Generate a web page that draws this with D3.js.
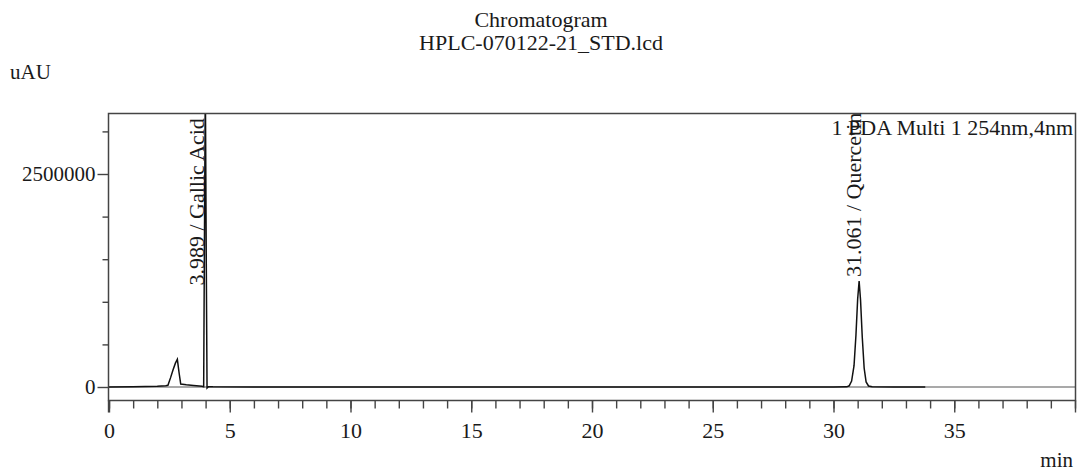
<!DOCTYPE html>
<html><head><meta charset="utf-8">
<script src="https://cdn.jsdelivr.net/npm/d3@7"></script>
<style>
body{margin:0;background:#fff;}
text{font-family:"Liberation Serif","Times New Roman",serif;fill:#1a1a1a;}
</style></head>
<body><svg id="c" width="1080" height="472"></svg>
<script>
// ---- data ----
const titleLines = ["Chromatogram", "HPLC-070122-21_STD.lcd"];
const yUnit = "uAU";
const xUnit = "min";
const legendText = "1 PDA Multi 1 254nm,4nm";
const xMajorTicks = [0, 5, 10, 15, 20, 25, 30, 35];
const xMinorTicks = d3.range(0, 41, 1);
const yMajorTicks = [0, 2500000];
const yMinorTicks = [500000, 1000000, 1500000, 2000000, 3000000];
const time = [0, 1.0, 2.0, 2.35, 2.44, 2.55, 2.65, 2.75, 2.83, 2.9, 2.97, 3.2, 3.5, 3.85, 3.92, 3.95, 3.989, 4.025, 4.06, 4.12, 4.3, 6.0, 10.0, 20.0, 30.0, 30.55, 30.65, 30.75, 30.85, 30.93, 31.0, 31.061, 31.12, 31.19, 31.27, 31.35, 31.45, 31.6, 32.5, 33.8];
const signal = [0, 2000, 8000, 14000, 20000, 110000, 200000, 280000, 325000, 170000, 35000, 26000, 18000, 8000, 2000, 1600000, 3600000, 1600000, -12000, 4000, 2000, 0, 0, 0, 0, 2000, 14000, 70000, 250000, 610000, 1030000, 1244000, 1020000, 590000, 220000, 60000, 12000, 2000, 0, 0];
const peakRT = [3.989, 31.061];
const peakName = ["Gallic Acid", "Quercetin"];
const peakLabelValue = [1190000, 1290000];

// ---- layout ----
const svg = d3.select("#c");
const L = 108.5, R = 1075.5, T = 113.5, B = 400.5;
const x = d3.scaleLinear().domain([0, 40]).range([109, 1075]);
const y = d3.scaleLinear().domain([0, 2500000]).range([387, 174]);

// title
svg.selectAll("text.title").data(titleLines).join("text")
  .attr("class","title").attr("x", 541).attr("y", (d,i)=>27 + i*23)
  .attr("text-anchor","middle").style("font-size","22px").text(d=>d);
svg.append("text").attr("x", 10).attr("y", 79).style("font-size","21px").text(yUnit);
svg.append("text").attr("x", 1073).attr("y", 467).attr("text-anchor","end").style("font-size","21px").text(xUnit);

// clip
svg.append("clipPath").attr("id","clip").append("rect")
  .attr("x", L).attr("y", T).attr("width", R-L).attr("height", B-T);

const g = svg.append("g");
// zero line
g.append("line").attr("x1", x(0)).attr("x2", x(40)).attr("y1", y(0)).attr("y2", y(0))
  .attr("stroke","#555").attr("stroke-width",1.2);

// trace
const pts = time.map((t,i)=>[t, signal[i]]);
g.append("path").datum(pts).attr("clip-path","url(#clip)")
  .attr("fill","none").attr("stroke","#111").attr("stroke-width",1.5)
  .attr("d", d3.line().x(d=>x(d[0])).y(d=>y(d[1])));

// frame
svg.append("path").attr("d", `M${L},${B}V${T}H${R}V${B}Z`)
  .attr("fill","none").attr("stroke","#444").attr("stroke-width",1.5);

// x axes
const xa1 = svg.append("g").attr("transform",`translate(0,${B})`)
  .call(d3.axisBottom(x).tickValues(xMinorTicks).tickSize(8).tickFormat(""));
const xa2 = svg.append("g").attr("transform",`translate(0,${B})`)
  .call(d3.axisBottom(x).tickValues(xMajorTicks.concat([40])).tickSize(12).tickPadding(10)
    .tickFormat(d => d===40 ? "" : d));
[xa1, xa2].forEach(a=>{ a.select(".domain").remove(); a.selectAll("line").attr("stroke","#444").attr("stroke-width",1.4); });
xa2.selectAll("text").style("font-size","22px").attr("fill","#1a1a1a").attr("font-family",null);

// y axes
const ya1 = svg.append("g").attr("transform",`translate(${L},0)`)
  .call(d3.axisLeft(y).tickValues(yMinorTicks).tickSize(6).tickFormat(""));
const ya2 = svg.append("g").attr("transform",`translate(${L},0)`)
  .call(d3.axisLeft(y).tickValues(yMajorTicks).tickSize(11).tickPadding(2).tickFormat(d3.format("d")));
[ya1, ya2].forEach(a=>{ a.select(".domain").remove(); a.selectAll("line").attr("stroke","#444").attr("stroke-width",1.4); });
ya2.selectAll("text").style("font-size","21px").attr("fill","#1a1a1a").attr("font-family",null);
svg.append("line").attr("x1",L).attr("x2",L).attr("y1",B).attr("y2",B+12).attr("stroke","#444").attr("stroke-width",1.4);

// legend
svg.append("text").attr("x", 1073).attr("y", 135).attr("text-anchor","end")
  .style("font-size","22px").text(legendText);

// peak labels
svg.selectAll("text.peak").data(peakRT).join("text")
  .attr("class","peak")
  .attr("transform",(d,i)=>`translate(${x(d) + (i===0 ? -1.5 : 2)},${y(peakLabelValue[i])}) rotate(-90)`)
  .style("font-size","22px")
  .text((d,i)=>`${d.toFixed(3)} / ${peakName[i]}`);
</script></body></html>
